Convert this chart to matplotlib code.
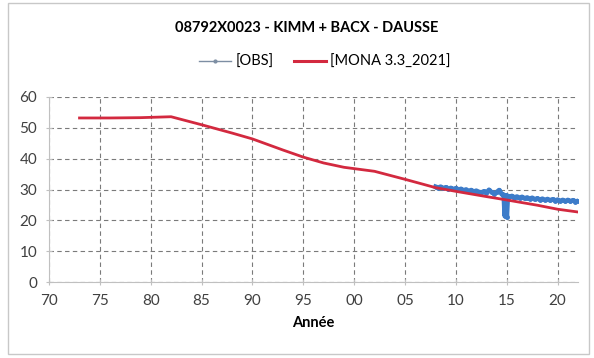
import matplotlib.pyplot as plt
from matplotlib.lines import Line2D
from matplotlib.patches import Rectangle

plt.rcParams['font.family'] = ['Lato', 'DejaVu Sans']

# MONA 3.3_2021 simulated level
mona_years = [1973, 1976, 1979, 1982, 1985, 1988, 1990, 1993, 1995, 1997,
              1999, 2002, 2005, 2008, 2010, 2013, 2015, 2018, 2020, 2022]
mona_levels = [53.2, 53.2, 53.3, 53.6, 51.0, 48.3, 46.4, 42.8, 40.5, 38.6,
               37.2, 35.9, 33.3, 30.6, 29.4, 27.7, 26.6, 24.9, 23.6, 22.7]

# observed level
obs_years = [2008.0, 2008.25, 2008.5, 2008.75, 2009.0, 2009.25, 2009.5, 2009.75,
             2010.0, 2010.25, 2010.5, 2010.75, 2011.0, 2011.25, 2011.5, 2011.75,
             2012.0, 2012.25, 2012.5, 2012.75, 2013.0, 2013.25, 2013.5, 2013.75,
             2014.0, 2014.25, 2014.5, 2014.7, 2014.8, 2014.9, 2015.0, 2015.1,
             2015.25, 2015.5, 2015.75, 2016.0, 2016.25, 2016.5, 2016.75,
             2017.0, 2017.25, 2017.5, 2017.75, 2018.0, 2018.25, 2018.5, 2018.75,
             2019.0, 2019.25, 2019.5, 2019.75, 2020.0, 2020.25, 2020.5, 2020.75,
             2021.0, 2021.25, 2021.5, 2021.75, 2022.0]
obs_levels = [30.9, 30.6, 30.9, 30.4, 30.7, 30.2, 30.5, 30.1,
              30.4, 29.9, 30.2, 29.7, 30.0, 29.5, 29.8, 29.3,
              29.6, 29.2, 29.0, 29.4, 28.9, 29.9, 29.1, 28.7,
              29.1, 29.8, 28.5, 28.3, 21.4, 28.1, 21.0, 27.9,
              27.6, 27.9, 27.4, 27.7, 27.3, 27.6, 27.1,
              27.4, 27.0, 27.3, 26.8, 27.1, 26.7, 27.0, 26.6,
              26.9, 26.5, 26.8, 26.4, 26.7, 26.3, 26.6, 26.2,
              26.6, 26.2, 26.5, 26.1, 26.3]

x_ticks = [1970, 1975, 1980, 1985, 1990, 1995, 2000, 2005, 2010, 2015, 2020]
y_ticks = [0, 10, 20, 30, 40, 50, 60]

blue = '#3d7cc9'
red = '#d3293f'

fig = plt.figure(figsize=(5.94, 3.58), dpi=100)
ax = fig.add_axes([49 / 594, 1 - 282 / 358, 529 / 594, 185 / 358])

# chart frame
fig.patches.append(Rectangle((8 / 594, 4 / 358), 581 / 594, 351 / 358,
                             transform=fig.transFigure, fill=False,
                             edgecolor='#c8c8c8', linewidth=1))

ax.plot(obs_years, obs_levels, color=blue, linewidth=3.4, marker='o',
        markersize=2.5, zorder=3)
ax.plot(mona_years, mona_levels, color=red, linewidth=2, zorder=4)

ax.set_xlim(1970, 2022)
ax.set_ylim(0, 60)
ax.set_xticks(x_ticks)
ax.set_xticklabels([f'{y % 100:02d}' for y in x_ticks])
ax.set_yticks(y_ticks)
ax.grid(True, color='#7a7a7a', linestyle=(0, (4, 3)), linewidth=0.8)
ax.set_axisbelow(True)

for side in ['top', 'right']:
    ax.spines[side].set_visible(False)
for side in ['left', 'bottom']:
    ax.spines[side].set_color('#c0c0c0')
ax.tick_params(direction='inout', length=5, color='#c0c0c0',
               labelsize=11, labelcolor='#404040', pad=6)

ax.set_xlabel('Année', fontsize=10.5, fontweight='bold', labelpad=6)
fig.text(307 / 594, 1 - 28 / 358, '08792X0023 - KIMM + BACX - DAUSSE',
         ha='center', va='center', fontsize=10.5, fontweight='bold')

handles = [
    Line2D([0], [0], color='#7d8ea3', linewidth=1, marker='o', markersize=2),
    Line2D([0], [0], color=red, linewidth=2.2),
]
fig.legend(handles, ['[OBS]', '[MONA 3.3_2021]'], loc='center',
           bbox_to_anchor=(325 / 594, 1 - 62 / 358), ncol=2, frameon=False,
           fontsize=10.5, handlelength=2.2, columnspacing=1.4, handletextpad=0.3)

fig.savefig('out.png', dpi=100)
